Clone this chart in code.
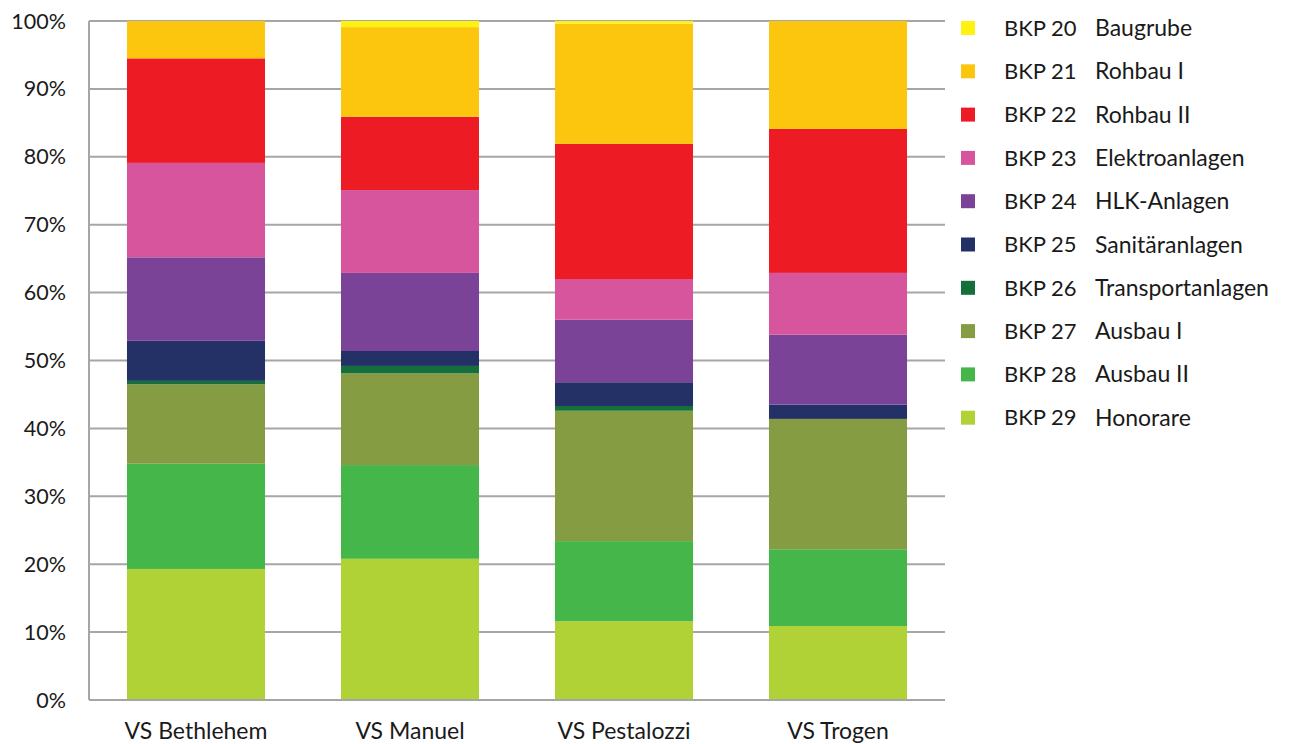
<!DOCTYPE html>
<html>
<head>
<meta charset="utf-8">
<script src="https://cdn.jsdelivr.net/npm/d3@7"></script>
<style>
  body { margin: 0; background: #fff; }
  text { font-family: Lato, "Open Sans", sans-serif; fill: #1a1a1a; }
</style>
</head>
<body>
<div id="chart"></div>
<script>
// schools on the x axis
const schools = ["VS Bethlehem", "VS Manuel", "VS Pestalozzi", "VS Trogen"];

// BKP groups, bottom to top in the stack
const codes = ["BKP 29", "BKP 28", "BKP 27", "BKP 26", "BKP 25", "BKP 24", "BKP 23", "BKP 22", "BKP 21", "BKP 20"];
const names = ["Honorare", "Ausbau II", "Ausbau I", "Transportanlagen", "Sanitäranlagen", "HLK-Anlagen", "Elektroanlagen", "Rohbau II", "Rohbau I", "Baugrube"];
const colors = ["#b1d236", "#45b649", "#859c43", "#146f3a", "#233166", "#7b4397", "#d6559c", "#ed1c24", "#fdc60e", "#fff212"];

// share in % per school, same order as codes
const bethlehem = [19.3, 15.5, 11.7, 0.5, 5.9, 12.3, 13.9, 15.4, 5.5, 0];
const manuel = [20.8, 13.8, 13.5, 1.1, 2.2, 11.5, 12.2, 10.8, 13.2, 0.9];
const pestalozzi = [11.6, 11.8, 19.2, 0.7, 3.5, 9.2, 6.0, 19.9, 17.7, 0.4];
const trogen = [10.9, 11.3, 19.2, 0, 2.1, 10.3, 9.1, 21.2, 15.9, 0];

const yTicks = [0, 10, 20, 30, 40, 50, 60, 70, 80, 90, 100];

const width = 1293;
const height = 744;
const margin = { top: 21, right: 348, bottom: 44, left: 89 };

const rows = [bethlehem, manuel, pestalozzi, trogen].map((vals, i) => {
  const r = { school: schools[i] };
  codes.forEach((c, j) => { r[c] = vals[j]; });
  return r;
});

const svg = d3
  .select("#chart")
  .append("svg")
  .attr("width", width)
  .attr("height", height);

const x = d3
  .scaleBand()
  .domain(schools)
  .range([margin.left, width - margin.right])
  .paddingInner(0.355)
  .paddingOuter(0.1775);

const y = d3
  .scaleLinear()
  .domain([0, 100])
  .range([height - margin.bottom, margin.top]);

// gridlines
svg
  .selectAll(".grid")
  .data(yTicks)
  .enter()
  .append("line")
  .attr("class", "grid")
  .attr("x1", margin.left)
  .attr("x2", width - margin.right)
  .attr("y1", (d) => y(d))
  .attr("y2", (d) => y(d))
  .attr("stroke", "#a6a6a6")
  .attr("stroke-width", 2);

// left axis line
svg
  .append("line")
  .attr("x1", margin.left)
  .attr("x2", margin.left)
  .attr("y1", y(0))
  .attr("y2", y(100))
  .attr("stroke", "#a6a6a6")
  .attr("stroke-width", 2);

svg
  .selectAll(".ylab")
  .data(yTicks)
  .enter()
  .append("text")
  .attr("class", "ylab")
  .attr("x", 66)
  .attr("y", (d) => y(d))
  .attr("dy", "0.35em")
  .attr("text-anchor", "end")
  .attr("font-size", 21.5)
  .text((d) => d + "%");

const stacked = d3.stack().keys(codes)(rows);

svg
  .selectAll(".layer")
  .data(stacked)
  .enter()
  .append("g")
  .attr("class", "layer")
  .attr("fill", (d, i) => colors[i])
  .selectAll("rect")
  .data((d) => d)
  .enter()
  .append("rect")
  .attr("x", (d) => x(d.data.school))
  .attr("width", x.bandwidth())
  .attr("y", (d) => y(d[1]))
  .attr("height", (d) => y(d[0]) - y(d[1]));

// bottom axis line over the bars
svg
  .append("line")
  .attr("x1", margin.left)
  .attr("x2", width - margin.right)
  .attr("y1", y(0))
  .attr("y2", y(0))
  .attr("stroke", "#a6a6a6")
  .attr("stroke-width", 2);

svg
  .selectAll(".xlab")
  .data(schools)
  .enter()
  .append("text")
  .attr("class", "xlab")
  .attr("x", (d) => x(d) + x.bandwidth() / 2)
  .attr("y", 739)
  .attr("text-anchor", "middle")
  .attr("font-size", 23)
  .text((d) => d);

// legend, top item is BKP 20
const legendItems = d3.range(codes.length).reverse();

const legend = svg
  .selectAll(".legend")
  .data(legendItems)
  .enter()
  .append("g")
  .attr("class", "legend")
  .attr("transform", (d, i) => `translate(961, ${28 + i * 43.3})`);

legend
  .append("rect")
  .attr("x", 0)
  .attr("y", -7)
  .attr("width", 14)
  .attr("height", 14)
  .attr("fill", (d) => colors[d]);

legend
  .append("text")
  .attr("x", 43)
  .attr("dy", "0.35em")
  .attr("font-size", 22)
  .text((d) => codes[d]);

legend
  .append("text")
  .attr("x", 134)
  .attr("dy", "0.35em")
  .attr("font-size", 23)
  .text((d) => names[d]);
</script>
</body>
</html>
